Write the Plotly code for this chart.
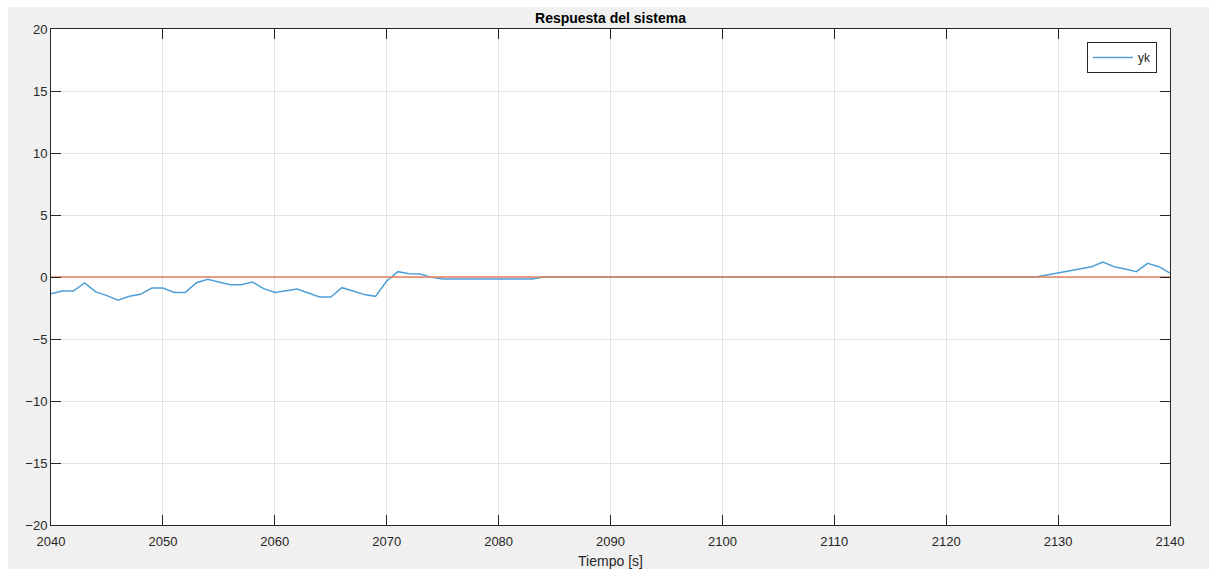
import plotly.graph_objects as go

# Sampling instants [s]
t = list(range(2040, 2141))

# System output yk
yk = [
    -1.35, -1.13, -1.13, -0.48, -1.20, -1.50, -1.88, -1.56, -1.40, -0.89,
    -0.89, -1.24, -1.24, -0.46, -0.19, -0.40, -0.62, -0.62, -0.40, -0.94,
    -1.24, -1.10, -0.97, -1.29, -1.61, -1.61, -0.86, -1.13, -1.42, -1.56,
    -0.32, 0.43, 0.27, 0.24, -0.03,
    -0.16, -0.16, -0.16, -0.16, -0.16, -0.16, -0.16, -0.16, -0.16,
    0, 0, 0, 0, 0, 0, 0, 0, 0, 0,
    0, 0, 0, 0, 0, 0, 0, 0, 0, 0,
    0, 0, 0, 0, 0, 0, 0, 0, 0, 0,
    0, 0, 0, 0, 0, 0, 0, 0, 0, 0,
    0, 0, 0, 0, 0,
    0.16, 0.32, 0.48, 0.65, 0.83, 1.21, 0.83, 0.65, 0.43, 1.10,
    0.83, 0.32,
]

# Reference (setpoint)
ref_t = [2040, 2140]
ref_y = [0, 0]

x_ticks = [2040, 2050, 2060, 2070, 2080, 2090, 2100, 2110, 2120, 2130, 2140]
y_ticks = [-20, -15, -10, -5, 0, 5, 10, 15, 20]

FONT = "Liberation Sans, Arial, Helvetica, sans-serif"
AX = "#262626"

fig = go.Figure()
fig.add_trace(go.Scatter(
    x=t, y=yk, mode="lines", name="yk",
    line=dict(color="#4F9FD8", width=1.5),
))
fig.add_trace(go.Scatter(
    x=ref_t, y=ref_y, mode="lines", name="ref", showlegend=False,
    line=dict(color="#E2805F", width=1.5),
))

axis_common = dict(
    showline=True, linecolor=AX, linewidth=1, mirror="ticks",
    ticks="inside", ticklen=10, tickcolor=AX, tickwidth=1,
    showgrid=True, gridcolor="#E3E3E3", gridwidth=1,
    zeroline=False, automargin=False,
    tickfont=dict(family=FONT, size=13, color=AX),
)

fig.update_xaxes(
    range=[2040, 2140], tickvals=x_ticks, ticklabelstandoff=4,
    title=dict(text="Tiempo [s]", font=dict(family=FONT, size=14, color=AX), standoff=8),
    **axis_common,
)
fig.update_yaxes(
    range=[-20, 20], tickvals=y_ticks,
    **axis_common,
)

# Figure frame: white strip along the top and left edges
pw, ph = 1119.0, 496.0
fig.add_shape(type="rect", xref="paper", yref="paper",
              x0=-51 / pw, x1=-43 / pw, y0=-44 / ph, y1=(525) / ph,
              fillcolor="white", line=dict(width=0), layer="below")
fig.add_shape(type="rect", xref="paper", yref="paper",
              x0=-51 / pw, x1=1158 / pw, y0=(525 - 7) / ph, y1=525 / ph,
              fillcolor="white", line=dict(width=0), layer="below")

fig.update_layout(
    width=1209, height=569,
    margin=dict(l=51, r=39, t=29, b=44),
    paper_bgcolor="#F0F0F0",
    plot_bgcolor="white",
    title=dict(text="<b>Respuesta del sistema</b>", x=0.5, xref="paper", xanchor="center",
               y=1 - 18 / 569, yanchor="middle",
               font=dict(family=FONT, size=14, color="black")),
    legend=dict(
        x=1 - 13 / pw, xanchor="right", y=1 - 13 / ph, yanchor="top",
        bordercolor=AX, borderwidth=1, bgcolor="white",
        font=dict(family=FONT, size=12, color=AX),
        itemwidth=40,
    ),
    showlegend=True,
)

fig.write_html("out.html")
